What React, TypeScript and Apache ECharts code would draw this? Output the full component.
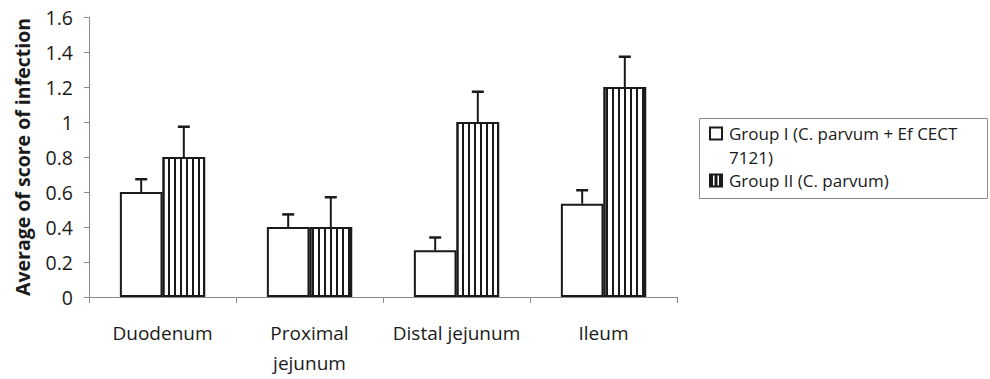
import React, { useEffect, useRef } from "react";
import * as echarts from "echarts";

const categories = ["Duodenum", "Proximal jejunum", "Distal jejunum", "Ileum"];
const group1Name = "Group I (C. parvum + Ef CECT 7121)";
const group2Name = "Group II (C. parvum)";
const group1Values = [0.6, 0.4, 0.267, 0.533];
const group1ErrTop = [0.673, 0.472, 0.34, 0.61];
const group2Values = [0.8, 0.4, 1.0, 1.2];
const group2ErrTop = [0.973, 0.57, 1.173, 1.373];
const yTitle = "Average of score of infection";

const FONT = "'Open Sans', 'Noto Sans', sans-serif";
const BAR_W = 0.29;

export default function App() {
  const ref = useRef<HTMLDivElement>(null);
  useEffect(() => {
    if (!ref.current) return;
    const chart = echarts.init(ref.current, undefined, { renderer: "svg" });

    const errRender = (sign: number) => (params: any, api: any) => {
      const idx = api.value(0);
      const base = api.coord([idx, api.value(2)]);
      const top = api.coord([idx, api.value(1)]);
      const band = api.size([1, 0])[0];
      const x = base[0] + (sign * band * BAR_W) / 2;
      return {
        type: "group",
        children: [
          {
            type: "line",
            shape: { x1: x, y1: base[1], x2: x, y2: top[1] },
            style: { stroke: "#1a1a1a", lineWidth: 2 },
          },
          {
            type: "line",
            shape: { x1: x - 6, y1: top[1], x2: x + 6, y2: top[1] },
            style: { stroke: "#1a1a1a", lineWidth: 2.5 },
          },
        ],
      };
    };

    // legend text: Group I name wraps after "CECT" as in the reference
    const legendLines = [group1Name.replace(" 7121)", "\n7121)"), group2Name].join("\n");

    const option: any = {
      animation: false,
      backgroundColor: "#fff",
      grid: { left: 89, right: 313, top: 17, bottom: 82 },
      xAxis: {
        type: "category",
        data: categories,
        axisLine: { lineStyle: { color: "#8a8a8a", width: 1 } },
        axisTick: { show: true, length: 6, lineStyle: { color: "#8a8a8a" } },
        axisLabel: {
          color: "#1a1a1a",
          fontFamily: FONT,
          fontSize: 19,
          lineHeight: 30,
          margin: 21,
          interval: 0,
          formatter: (v: string) => (v === "Proximal jejunum" ? "Proximal\njejunum" : v),
        },
      },
      yAxis: {
        type: "value",
        min: 0,
        max: 1.6,
        interval: 0.2,
        splitLine: { show: false },
        axisLine: { show: true, lineStyle: { color: "#8a8a8a", width: 1 } },
        axisTick: { show: true, length: 5, lineStyle: { color: "#8a8a8a" } },
        axisLabel: { color: "#1a1a1a", fontFamily: FONT, fontSize: 19.5, margin: 16 },
        name: yTitle,
        nameLocation: "middle",
        nameGap: 57,
        nameTextStyle: { color: "#1a1a1a", fontFamily: FONT, fontSize: 19.5, fontWeight: "bold" },
      },
      series: [
        {
          name: group1Name,
          type: "bar",
          data: group1Values,
          barWidth: BAR_W * 100 + "%",
          barGap: "0%",
          itemStyle: { color: "#fff", borderColor: "#1a1a1a", borderWidth: 2 },
        },
        {
          name: group2Name,
          type: "bar",
          data: group2Values,
          barWidth: BAR_W * 100 + "%",
          barGap: "0%",
          itemStyle: {
            color: "#fff",
            borderColor: "#1a1a1a",
            borderWidth: 2,
            decal: {
              symbol: "rect",
              symbolSize: 1,
              color: "#1a1a1a",
              dashArrayX: [2, 3.3],
              dashArrayY: [1, 0],
              rotation: 0,
            },
          },
        },
        {
          type: "custom",
          renderItem: errRender(-1),
          data: group1Values.map((v, i) => [i, group1ErrTop[i], v]),
          z: 3,
        },
        {
          type: "custom",
          renderItem: errRender(1),
          data: group2Values.map((v, i) => [i, group2ErrTop[i], v]),
          z: 3,
        },
      ],
      graphic: [
        {
          type: "rect",
          shape: { x: 699.5, y: 118.5, width: 288, height: 80 },
          style: { fill: "#fff", stroke: "#8a8a8a", lineWidth: 1 },
        },
        {
          type: "rect",
          shape: { x: 710, y: 127.5, width: 12, height: 12 },
          style: { fill: "#fff", stroke: "#1a1a1a", lineWidth: 2 },
        },
        {
          type: "rect",
          shape: { x: 709, y: 173.5, width: 14, height: 14 },
          style: { fill: "#1a1a1a" },
        },
        {
          type: "rect",
          shape: { x: 713, y: 175.5, width: 1.5, height: 10 },
          style: { fill: "#fff" },
        },
        {
          type: "rect",
          shape: { x: 717.5, y: 175.5, width: 1.5, height: 10 },
          style: { fill: "#fff" },
        },
        {
          type: "text",
          x: 729,
          y: 121.75,
          style: {
            text: legendLines,
            fontFamily: FONT,
            fontSize: 17,
            lineHeight: 23.5,
            fill: "#1a1a1a",
            verticalAlign: "top",
          },
        },
      ],
    };
    chart.setOption(option);
    return () => chart.dispose();
  }, []);
  return <div ref={ref} style={{ width: 990, height: 379, position: "absolute", left: 0, top: 0 }} />;
}
